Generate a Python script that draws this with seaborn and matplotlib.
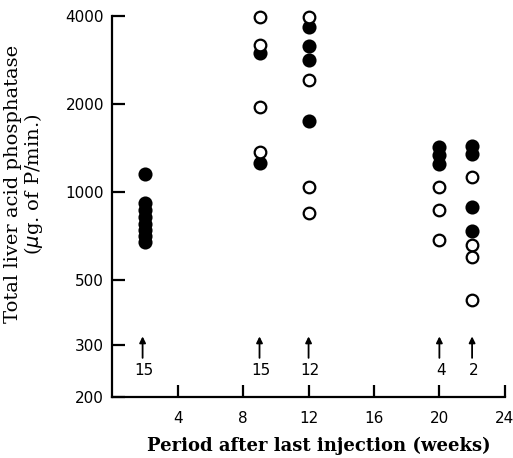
import matplotlib
matplotlib.use("Agg")
import matplotlib.pyplot as plt
import matplotlib.ticker as mticker
import numpy as np
import pandas as pd
import seaborn as sns

# ── Data ──
# filled circles
filled_weeks = [2, 2, 2, 2, 2, 2, 2, 2,
                9, 9,
                12, 12, 12, 12,
                20, 20, 20,
                22, 22, 22, 22]
filled_values = [1155, 920, 871, 824, 780, 744, 709, 677,
                 2983, 1256,
                 3677, 3167, 2830, 1756,
                 1432, 1341, 1250,
                 1443, 1352, 894, 740]

# open circles
open_weeks = [9, 9, 9, 9,
              12, 12, 12, 12,
              20, 20, 20,
              22, 22, 22, 22]
open_values = [3960, 3185, 1952, 1376,
               3960, 2418, 1040, 850,
               1046, 871, 688,
               1131, 661, 603, 429]

# arrows with number of animals
arrow_weeks = [1.85, 9, 12, 20, 22]
arrow_counts = ["15", "15", "12", "4", "2"]

y_ticks = [200, 300, 500, 1000, 2000, 4000]
x_ticks = [4, 8, 12, 16, 20, 24]

filled_df = pd.DataFrame({"week": filled_weeks, "activity": filled_values})
open_df = pd.DataFrame({"week": open_weeks, "activity": open_values})

sns.set_theme(style="ticks")
plt.rcParams["font.family"] = ["DejaVu Sans"]

fig = plt.figure(figsize=(5.13, 4.58), dpi=100)
ax = fig.add_axes([0.219, 0.1332, 0.765, 0.832])

sns.scatterplot(data=filled_df, x="week", y="activity", ax=ax, s=80,
                color="black", edgecolor="black", linewidth=1.2,
                clip_on=False, zorder=3)
sns.scatterplot(data=open_df, x="week", y="activity", ax=ax, s=70,
                facecolor="white", edgecolor="black", linewidth=1.6,
                clip_on=False, zorder=4)

ax.set_yscale("log")
ax.set_ylim(200, 4000)
ax.set_xlim(0, 24)
ax.yaxis.set_major_locator(mticker.FixedLocator(y_ticks))
ax.yaxis.set_major_formatter(mticker.FixedFormatter([str(t) for t in y_ticks]))
ax.yaxis.set_minor_locator(mticker.NullLocator())
ax.set_xticks(x_ticks)
ax.set_xticklabels([str(t) for t in x_ticks])

for spine in ["top", "right"]:
    ax.spines[spine].set_visible(False)
for spine in ["left", "bottom"]:
    ax.spines[spine].set_linewidth(1.6)
    ax.spines[spine].set_color("black")

ax.tick_params(axis="both", direction="in", length=9, width=1.6,
               labelsize=11, colors="black", pad=6)
ax.tick_params(axis="x", pad=10)

# arrows and counts
for w, n in zip(arrow_weeks, arrow_counts):
    ax.annotate("", xy=(w, 322), xytext=(w, 272),
                arrowprops=dict(arrowstyle="-|>", color="black", lw=1.3,
                                mutation_scale=9, shrinkA=0, shrinkB=0))
    ax.text(w + 0.1, 247, n, ha="center", va="center", fontsize=11,
            color="black")

ax.set_xlabel("Period after last injection (weeks)", family="DejaVu Serif",
              fontsize=13, fontweight="bold", color="black")
ax.xaxis.set_label_coords(0.526, -0.105)
ax.set_ylabel("Total liver acid phosphatase\n($\\mu$g. of P/min.)",
              family="DejaVu Serif", fontsize=14, color="black",
              linespacing=1.0)
ax.yaxis.set_label_coords(-0.172, 0.559)

fig.savefig("out.png", dpi=100)
